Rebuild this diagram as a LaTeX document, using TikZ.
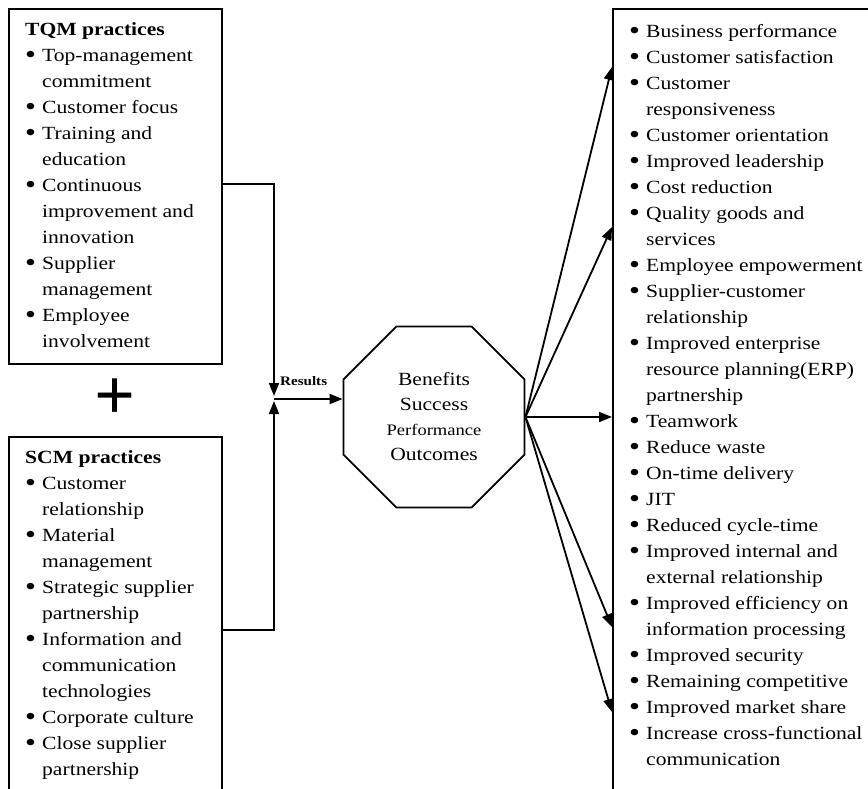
\documentclass[tikz,border=0pt]{standalone}
\usepackage{graphicx}
\usepackage{fontspec}
\setmainfont{Liberation Serif}[FakeStretch=1.16]
\newfontfamily\plusfont{Liberation Serif}
\usepackage{tikz}
\usetikzlibrary{shapes.geometric, arrows.meta, positioning}

\newcommand{\blt}{\makebox[17pt][l]{\raisebox{-2.2pt}{\scalebox{1.45}{\textbullet}}}}
\newcommand{\cont}{\hspace*{17pt}}

\begin{document}
\begin{tikzpicture}[x=1pt, y=-1pt,
   box/.style={draw, line width=1.8pt, rectangle, minimum width=213pt, anchor=north west, inner sep=0pt},
   list/.style={align=left, inner sep=0pt, font=\fontsize{18.6}{26}\selectfont},
   arr/.style={-{Triangle[length=13pt, width=10pt]}, line width=1.8pt}]
\fill[white] (0,0) rectangle (868,788);
\useasboundingbox (0,0) rectangle (868,788);
\clip (0,0) rectangle (868,788);

% Practice boxes
\node[box, minimum height=355pt] (tqm) at (8,8) {};
\node[box, minimum height=400pt] (scm) at (8,436) {};
\node[list, below right=14.5pt and 17pt of tqm.north west] (tqmtext)
   {\textbf{TQM practices}\\\blt Top-management\\\cont commitment\\\blt Customer focus\\\blt Training and\\\cont education\\\blt Continuous\\\cont improvement and\\\cont innovation\\\blt Supplier\\\cont management\\\blt Employee\\\cont involvement};
\node[list, below right=14.5pt and 17pt of scm.north west] (scmtext)
   {\textbf{SCM practices}\\\blt Customer\\\cont relationship\\\blt Material\\\cont management\\\blt Strategic supplier\\\cont partnership\\\blt Information and\\\cont communication\\\cont technologies\\\blt Corporate culture\\\blt Close supplier\\\cont partnership};

\node[font=\plusfont\bfseries\fontsize{72}{72}\selectfont, inner sep=0pt] (plus) at (115,399) {+};

% Outcomes box
\node[box, minimum width=280pt, minimum height=800pt] (res) at (612,8) {};
\node[list, below right=16.3pt and 17pt of res.north west] (restext)
   {\blt Business performance\\\blt Customer satisfaction\\\blt Customer\\\cont responsiveness\\\blt Customer orientation\\\blt Improved leadership\\\blt Cost reduction\\\blt Quality goods and\\\cont services\\\blt Employee empowerment\\\blt Supplier-customer\\\cont relationship\\\blt Improved enterprise\\\cont resource planning(ERP)\\\cont partnership\\\blt Teamwork\\\blt Reduce waste\\\blt On-time delivery\\\blt JIT\\\blt Reduced cycle-time\\\blt Improved internal and\\\cont external relationship\\\blt Improved efficiency on\\\cont information processing\\\blt Improved security\\\blt Remaining competitive\\\blt Improved market share\\\blt Increase cross-functional\\\cont communication};

% Central octagon
\node[draw, line width=1.8pt, regular polygon, regular polygon sides=8, minimum size=196pt, inner sep=0pt, align=center, font=\fontsize{18.6}{25}\selectfont] (oct) at (434,417)
   {Benefits\\Success\\{\fontsize{16}{25}\selectfont Performance}\\Outcomes};

% Connectors
\coordinate (join) at (274,399);
\draw[arr] (tqm.east |- 0,184) -| ([yshift=3pt]join);
\draw[arr] (scm.east |- 0,630) -| ([yshift=-2pt]join);
\draw[arr] (join) -- (oct.west |- join);
\node[font=\bfseries\fontsize{13}{13}\selectfont, anchor=base west, inner sep=0pt] (resultslabel) at (280,385) {Results};

\foreach \ty in {67,227,417,627,712}
   \draw[arr] (oct.east) -- (res.west |- 0,\ty);
\end{tikzpicture}
\end{document}
